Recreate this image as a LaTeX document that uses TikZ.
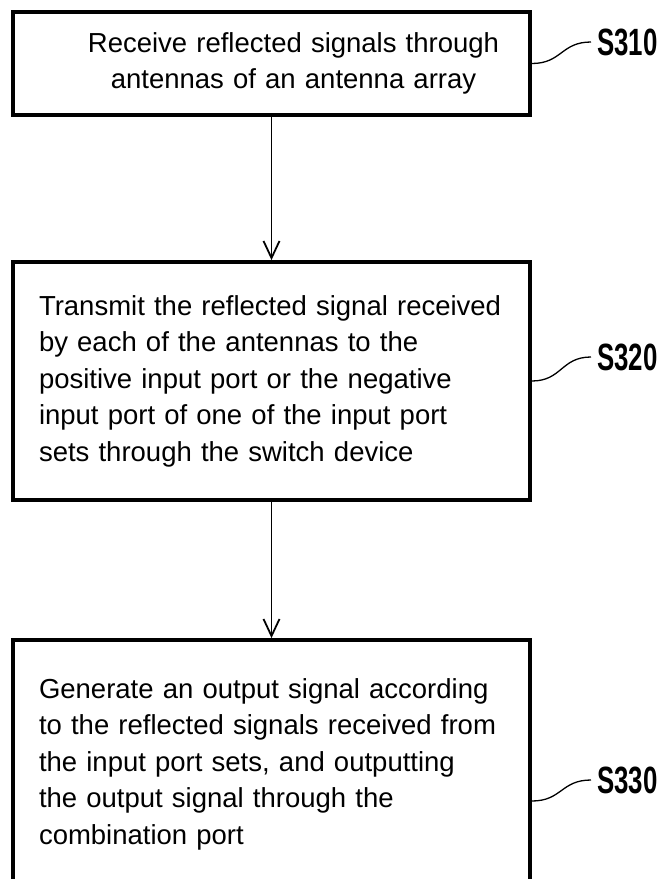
\documentclass[tikz,border=0pt]{standalone}
\usepackage{fontspec}
\setmainfont{Liberation Sans}
\newfontfamily\labelfont{Liberation Sans}[FakeStretch=0.68]
\usepackage{tikz}
\usetikzlibrary{arrows.meta,calc}
\usetikzlibrary{positioning}

\begin{document}
\begin{tikzpicture}[x=1pt, y=-1pt,
    stepbox/.style={draw, line width=3.8pt, inner xsep=26pt, text width=465pt,
        font=\fontsize{27.5}{36.5}\selectfont},
    flow/.style={-{Straight Barb[length=17pt,width=16pt]}, line width=1.8pt},
    leader/.style={line width=1.3pt},
    steplabel/.style={font=\labelfont\bfseries\fontsize{38}{38}\selectfont, inner sep=0pt, anchor=west}
]
    \useasboundingbox (0,0) rectangle (666,879);

    % Steps
    \node[stepbox, align=center, minimum height=103pt] (s310) at (271.5,63.5)
        {\hspace*{44pt}Receive reflected signals through\\
         \hspace*{44pt}antennas of an antenna array};
    \node[stepbox, align=left, minimum height=238pt] (s320) at (271.5,381)
        {Transmit the reflected signal received\\
         by each of the antennas to the\\
         positive input port or the negative\\
         input port of one of the input port\\
         sets through the switch device};
    \node[stepbox, align=left, minimum height=248pt] (s330) at (271.5,764)
        {Generate an output signal according\\
         to the reflected signals received from\\
         the input port sets, and outputting\\
         the output signal through the\\
         combination port};

    \draw[flow] (s310) -- (s320);
    \draw[flow] (s320) -- (s330);

    % Labels
    \node[steplabel] (l310) at (597,42) {S310};
    \node[steplabel] (l320) at (597,357) {S320};
    \node[steplabel] (l330) at (597,780) {S330};

    \draw[leader] (s310.east) .. controls +(30,0) and +(-30,0) .. ([xshift=-6pt]l310.west);
    \draw[leader] (s320.east) .. controls +(30,0) and +(-30,0) .. ([xshift=-6pt]l320.west);
    \draw[leader] ([yshift=-37pt]s330.east) .. controls +(30,0) and +(-30,0) .. ([xshift=-6pt]l330.west);
\end{tikzpicture}
\end{document}
